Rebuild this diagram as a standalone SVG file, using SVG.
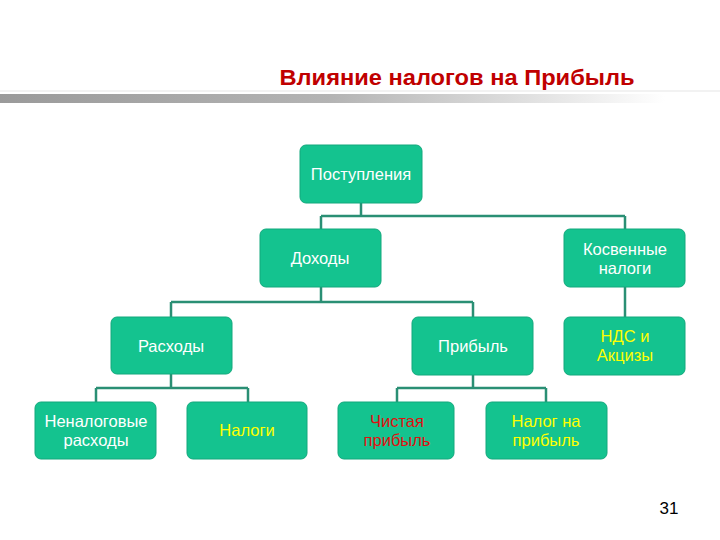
<svg xmlns="http://www.w3.org/2000/svg" width="720" height="540" viewBox="0 0 720 540">
<defs>
<linearGradient id="bar" x1="0" y1="0" x2="1" y2="0">
<stop offset="0" stop-color="#9a9a9a"/>
<stop offset="0.5" stop-color="#b4b4b4"/>
<stop offset="1" stop-color="#ffffff"/>
</linearGradient>
</defs>
<style>
.box{fill:#14c38f;stroke:#12a87c;stroke-width:1}
.t{font-family:"Liberation Sans",Arial,sans-serif;font-size:16.5px;text-anchor:middle;fill:#ffffff}
.y{fill:#ffff00}
.r{fill:#e01010}
.ln{fill:none;stroke:#2a8f74;stroke-width:2.5}
</style>
<rect x="0" y="0" width="720" height="540" fill="#ffffff"/>
<text x="457" y="85" font-family="Liberation Sans,Arial,sans-serif" font-size="22" font-weight="bold" fill="#c00000" text-anchor="middle" textLength="355" lengthAdjust="spacingAndGlyphs">Влияние налогов на Прибыль</text>
<rect x="0" y="90" width="720" height="2" fill="#f2f2f2"/>
<rect x="0" y="94" width="665" height="9" fill="url(#bar)"/>
<g id="connectors">
<path class="ln" d="M361 203V216M321 216H625M321 216V229M625 216V229"/>
<path class="ln" d="M321 287V302M171 302H473M171 302V317M473 302V317"/>
<path class="ln" d="M625 287V317"/>
<path class="ln" d="M171 374V388M96 388H248M96 388V402M248 388V402"/>
<path class="ln" d="M473 374V388M397 388H546M397 388V402M546 388V402"/>
</g>
<g id="n-postupleniya"><rect class="box" x="300" y="145" width="122" height="58" rx="6"/><text class="t" x="361" y="180">Поступления</text></g>
<g id="n-dohody"><rect class="box" x="260" y="229" width="121" height="58" rx="6"/><text class="t" x="320" y="264">Доходы</text></g>
<g id="n-kosvennye"><rect class="box" x="564" y="229" width="121" height="58" rx="6"/><text class="t" x="625" y="255">Косвенные</text><text class="t" x="625" y="274">налоги</text></g>
<g id="n-rashody"><rect class="box" x="111" y="317" width="121" height="57" rx="6"/><text class="t" x="171" y="352">Расходы</text></g>
<g id="n-pribyl"><rect class="box" x="412" y="317" width="121" height="58" rx="6"/><text class="t" x="473" y="352">Прибыль</text></g>
<g id="n-nds"><rect class="box" x="564" y="317" width="121" height="58" rx="6"/><text class="t y" x="625" y="342">НДС и</text><text class="t y" x="625" y="361">Акцизы</text></g>
<g id="n-nenalog"><rect class="box" x="35" y="402" width="121" height="57" rx="6"/><text class="t" x="96" y="427">Неналоговые</text><text class="t" x="96" y="446">расходы</text></g>
<g id="n-nalogi"><rect class="box" x="187" y="402" width="120" height="57" rx="6"/><text class="t y" x="247" y="436">Налоги</text></g>
<g id="n-chistaya"><rect class="box" x="338" y="402" width="116" height="57" rx="6"/><text class="t r" x="397" y="427">Чистая</text><text class="t r" x="397" y="446">прибыль</text></g>
<g id="n-nalogpr"><rect class="box" x="486" y="402" width="121" height="57" rx="6"/><text class="t y" x="546" y="427">Налог на</text><text class="t y" x="546" y="446">прибыль</text></g>
<text x="669" y="514" font-family="Liberation Sans,Arial,sans-serif" font-size="17" fill="#000000" text-anchor="middle">31</text>
</svg>
